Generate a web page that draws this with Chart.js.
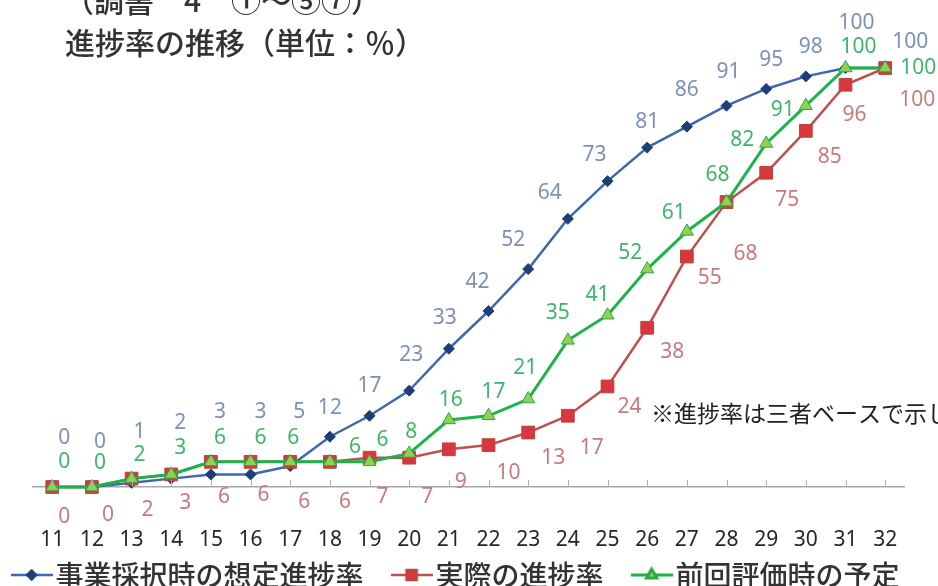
<!DOCTYPE html>
<html><head><meta charset="utf-8">
<script src="https://cdn.jsdelivr.net/npm/chart.js@4/dist/chart.umd.min.js"></script>
<style>
html,body{margin:0;padding:0;background:#fff;overflow:hidden;width:938px;height:586px;}
#wrap{position:absolute;left:0;top:0;width:938px;height:599px;}
</style></head><body>
<div id="wrap"><canvas id="c"></canvas></div>
<script>
// ---- data ----
const categories = ['11','12','13','14','15','16','17','18','19','20','21','22','23','24','25','26','27','28','29','30','31','32'];
const plannedAtAdoption = [0,0,1,2,3,3,5,12,17,23,33,42,52,64,73,81,86,91,95,98,100,100];
const actualProgress    = [0,0,2,3,6,6,6,6,7,7,9,10,13,17,24,38,55,68,75,85,96,100];
const previousPlan      = [0,0,2,3,6,6,6,6,6,8,16,17,21,35,41,52,61,68,82,91,100,100];
const seriesNames = ['事業採択時の想定進捗率','実際の進捗率','前回評価時の予定'];
const titleLines = ['（調書　4　①～⑤⑦）','進捗率の推移（単位：％）'];
const noteText = '※進捗率は三者ベースで示し';

// ---- label placement (pixel nudges relative to each point) ----
const blueLabelNudge = [[12,-49],[8,-45],[8,-51],[9,-56],[9,-62],[10,-62],[9,-54],[0,-29],[0,-30],[2,-36],[-4,-31],[-11,-29],[-15,-29],[-18,-26],[-13,-26],[0,-26],[0,-37],[2,-34],[5,-29],[5,-29],[11,-45],[25,-26]];
const redLabelNudge  = [[12,30],[16,28],[16,31],[14,29],[13,35],[13,33],[14,40],[15,40],[13,39],[18,39],[12,33],[20,28],[25,25],[24,32],[22,21],[25,24],[23,21],[19,52],[21,27],[24,26],[9,30],[32,32]];
const greenLabelNudge= [[12,-25],[8,-24],[8,-24],[9,-26],[9,-24],[10,-24],[3,-24],[25,-15],[13,-22],[2,-21],[2,-20],[5,-24],[-3,-31],[-10,-27],[-10,-20],[-17,-16],[-13,-18],[-9,-27],[-24,-3],[-23,4],[13,-21],[33,0]];

const CJK = "'Noto Sans CJK JP', sans-serif";
const NUM = "'Noto Sans', sans-serif";

const seriesStyle = [
  {line:'#4068ad', fill:'#1d3f78', border:'#1d3f78', point:'rectRot', radius:5.5, width:2.5, label:'#7d90b8', nudge: blueLabelNudge},
  {line:'#c0504d', fill:'#d9363e', border:'#b5473f', point:'rect', radius:9, width:2.5, label:'#c77b7e', nudge: redLabelNudge},
  {line:'#1fb14a', fill:'#92d050', border:'#2aa84a', point:'triangle', radius:7.5, width:3, label:'#3fb56a', nudge: greenLabelNudge}
];

// legend layout: slot width of each legend entry (icon box + gap + text + trailing space)
const legendFont = {family:CJK, size:28, weight:'500'};
const legendIconBox = 20;
const legendSlots = [372, 232, 276];

function makeIcon(s){
  const cv = document.createElement('canvas');
  cv.width = 42; cv.height = 18;
  const g = cv.getContext('2d');
  g.strokeStyle = s.line; g.lineWidth = s.width;
  g.beginPath(); g.moveTo(0,9); g.lineTo(42,9); g.stroke();
  g.fillStyle = s.fill; g.strokeStyle = s.border;
  Chart.helpers.drawPoint(g, {pointStyle:s.point, radius:s.radius*0.8, rotation:0, borderWidth:1}, 21, 9);
  return cv;
}
const legendIcons = seriesStyle.map(makeIcon);

function padText(ctx, text, target){
  ctx.save();
  ctx.font = Chart.helpers.toFont(legendFont).string;
  let s = text;
  while (ctx.measureText(s + '\u3000').width <= target) s += '\u3000';
  let guard = 0;
  while (guard++ < 40) {
    const cur = ctx.measureText(s).width;
    const next = ctx.measureText(s + '\u2009').width;
    if (next - target > target - cur || next === cur) break;
    s += '\u2009';
  }
  ctx.restore();
  return s;
}

const valueLabels = {
  id:'valueLabels',
  afterDatasetsDraw(chart){
    const ctx = chart.ctx;
    ctx.save();
    ctx.font = '21px ' + NUM;
    ctx.textAlign = 'center';
    ctx.textBaseline = 'middle';
    chart.data.datasets.forEach((ds, di) => {
      const meta = chart.getDatasetMeta(di);
      const st = seriesStyle[di];
      ctx.fillStyle = st.label;
      meta.data.forEach((pt, i) => {
        const n = st.nudge[i] || [0,-25];
        ctx.fillText(String(ds.data[i]), pt.x + n[0], pt.y + n[1]);
      });
    });
    ctx.restore();
  }
};

const innerTicks = {
  id:'innerTicks',
  afterDraw(chart){
    const x = chart.scales.x, ctx = chart.ctx, b = chart.chartArea.bottom;
    ctx.save();
    ctx.strokeStyle = '#b0b0b0'; ctx.lineWidth = 1;
    x.ticks.forEach((t, i) => {
      const px = Math.round(x.getPixelForTick(i)) + 0.5;
      ctx.beginPath(); ctx.moveTo(px, b); ctx.lineTo(px, b - 7); ctx.stroke();
    });
    ctx.restore();
  }
};

const texts = {
  id:'texts',
  afterDraw(chart){
    const ctx = chart.ctx;
    ctx.save();
    ctx.fillStyle = '#333';
    ctx.textAlign = 'left';
    ctx.textBaseline = 'alphabetic';
    ctx.font = '500 30px ' + CJK;
    ctx.fillText(titleLines[0], 64, 12);
    ctx.font = '500 30px ' + CJK;
    ctx.fillText(titleLines[1], 65, 54);
    ctx.fillStyle = '#222';
    ctx.font = '23px ' + CJK;
    ctx.textBaseline = 'middle';
    ctx.fillText(noteText, 651, 413);
    ctx.restore();
  }
};

const seriesData = [plannedAtAdoption, actualProgress, previousPlan];
const drawOrder = [2, 1, 0];

const hiddenSide = (pos, w) => ({
  position: pos, display: true, min: 0, max: 100,
  ticks: {display: false}, grid: {display: false}, border: {display: false},
  afterFit(s){ s.width = w; }
});

new Chart(document.getElementById('c'), {
  type:'line',
  data:{
    labels: categories,
    datasets: seriesData.map((d, i) => ({
      label: seriesNames[i],
      data: d,
      yAxisID: 'y',
      borderColor: seriesStyle[i].line,
      borderWidth: seriesStyle[i].width,
      backgroundColor: seriesStyle[i].fill,
      pointStyle: seriesStyle[i].point,
      pointRadius: seriesStyle[i].radius,
      pointBackgroundColor: seriesStyle[i].fill,
      pointBorderColor: seriesStyle[i].border,
      pointBorderWidth: 1,
      tension: 0,
      fill: false,
      clip: false,
      order: drawOrder[i]
    }))
  },
  options:{
    responsive:true,
    maintainAspectRatio:false,
    animation:false,
    devicePixelRatio:1,
    layout:{padding:{top:68, left:0, right:0, bottom:0}},
    scales:{
      y: hiddenSide('left', 8),
      yRight: hiddenSide('right', 33),
      x:{
        offset:true,
        grid:{display:true, drawOnChartArea:false, drawTicks:false},
        border:{display:true, color:'#a8a8a8', width:1.5},
        ticks:{padding:40, autoSkip:false, maxRotation:0, color:'#262626', font:{family:NUM, size:21}},
        afterFit(s){ s.height = 64; }
      }
    },
    plugins:{
      tooltip:{enabled:false},
      title:{display:false},
      legend:{
        position:'bottom',
        align:'center',
        labels:{
          usePointStyle:true,
          pointStyleWidth:legendIconBox,
          padding:10,
          color:'#333',
          font:legendFont,
          generateLabels(chart){
            const gap = legendIconBox + legendFont.size / 2;
            return chart.data.datasets.map((ds, i) => ({
              text: padText(chart.ctx, ds.label, legendSlots[i] - gap),
              fillStyle: ds.borderColor,
              strokeStyle: ds.borderColor,
              lineWidth: 0,
              pointStyle: legendIcons[i],
              datasetIndex: i,
              hidden: !chart.isDatasetVisible(i),
              fontColor: '#333'
            }));
          }
        }
      }
    }
  },
  plugins:[valueLabels, innerTicks, texts]
});
</script>
</body></html>
